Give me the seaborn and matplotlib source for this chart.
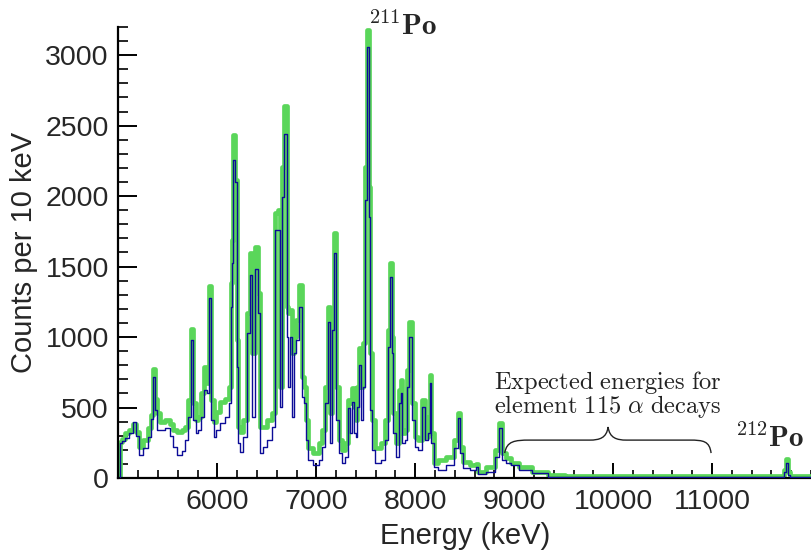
import matplotlib
matplotlib.use("Agg")
import matplotlib.pyplot as plt
from matplotlib.path import Path
from matplotlib.patches import PathPatch
from matplotlib.ticker import MultipleLocator
import numpy as np
import pandas as pd
import seaborn as sns

# ---- data (energy in keV, counts per 10 keV) ----
energy = [5010, 5020, 5050, 5090, 5130, 5170, 5190, 5220, 5270, 5320, 5340, 5360, 5380,
          5400, 5440, 5500, 5540, 5570, 5620, 5660, 5690, 5720, 5740, 5770, 5790, 5820,
          5850, 5880, 5900, 5930, 5950, 5980, 6000, 6060, 6100, 6130, 6140, 6150, 6170,
          6190, 6200, 6220, 6240, 6280, 6310, 6340, 6360, 6400, 6420, 6440, 6480, 6530,
          6570, 6600, 6620, 6640, 6660, 6690, 6710, 6720, 6740, 6760, 6780, 6810, 6840,
          6870, 6890, 6900, 6930, 7000, 7050, 7070, 7100, 7130, 7150, 7170, 7190, 7210,
          7240, 7270, 7300, 7330, 7350, 7370, 7390, 7410, 7420, 7450, 7460, 7480, 7500,
          7520, 7540, 7550, 7570, 7620, 7680, 7710, 7730, 7750, 7770, 7780, 7830, 7850,
          7860, 7880, 7910, 7930, 7950, 7980, 8010, 8050, 8080, 8110, 8140, 8150, 8170,
          8200, 8260, 8360, 8420, 8440, 8470, 8500, 8600, 8620, 8650, 8770, 8840, 8860,
          8890, 8940, 9000, 9100, 9260, 9430, 9600, 10500, 11500, 11720, 11740, 11760,
          11780, 11800, 12000]

counts_green = [0, 257, 280, 319, 340, 385, 330, 222, 270, 354, 450, 773, 560,
                461, 399, 411, 380, 340, 328, 340, 364, 553, 1060, 532, 411, 435,
                603, 789, 674, 1363, 553, 400, 470, 541, 560, 647, 1383, 1687, 2432,
                2113, 978, 364, 328, 411, 1170, 1595, 886, 1640, 1312, 364, 364, 411,
                461, 1879, 1900, 647, 2207, 2637, 1215, 1170, 1191, 886, 1002, 1120, 1368,
                718, 647, 411, 210, 177, 248, 340, 647, 1215, 461, 1170, 1737, 647,
                269, 199, 248, 553, 532, 638, 505, 411, 647, 922, 647, 957, 2207,
                3180, 2065, 886, 411, 213, 248, 411, 1049, 1522, 1002, 461, 248, 624,
                695, 319, 340, 766, 1108, 532, 293, 269, 553, 293, 435, 730, 319,
                104, 128, 151, 269, 459, 222, 116, 92, 100, 45, 80, 199, 388,
                177, 140, 106, 75, 45, 21, 14, 12, 12, 14, 60, 135,
                40, 14, 14]

counts_blue = [0, 248, 265, 284, 320, 400, 300, 163, 213, 291, 420, 718, 480,
               340, 340, 354, 300, 222, 163, 190, 269, 435, 978, 411, 319, 340,
               435, 624, 603, 1276, 411, 290, 340, 390, 435, 532, 1215, 1524, 2255,
               2101, 789, 248, 187, 293, 1028, 1439, 435, 1482, 1170, 177, 222, 269,
               364, 1758, 1758, 505, 1994, 2444, 1002, 647, 1002, 435, 886, 978, 1215,
               576, 532, 269, 128, 92, 128, 222, 532, 1108, 248, 1049, 1595, 411,
               177, 104, 151, 496, 319, 541, 319, 293, 505, 801, 411, 647, 1971,
               3058, 1852, 482, 199, 104, 128, 269, 931, 1427, 886, 319, 151, 532,
               601, 248, 269, 647, 1002, 411, 222, 199, 505, 269, 319, 671, 248,
               80, 57, 92, 213, 423, 177, 71, 57, 80, 28, 45, 151, 352,
               128, 104, 92, 60, 33, 9, 5, 4, 4, 5, 40, 108,
               20, 5, 5]

x_ticks_major = [6000, 7000, 8000, 9000, 10000, 11000]
y_ticks_major = [0, 500, 1000, 1500, 2000, 2500, 3000]

df = pd.DataFrame({"Energy": energy, "green": counts_green, "blue": counts_blue})

sns.set_theme(style="ticks")
plt.rcParams["font.family"] = ["Liberation Sans", "DejaVu Sans"]
plt.rcParams["mathtext.fontset"] = "cm"

fig = plt.figure(figsize=(8.11, 5.53), dpi=100)
ax = fig.add_axes([0.1461, 0.1356, 0.8539, 0.8156])

sns.lineplot(data=df, x="Energy", y="green", ax=ax, color="#5ad65a", linewidth=3.4,
             drawstyle="steps-mid", estimator=None, zorder=2)
sns.lineplot(data=df, x="Energy", y="blue", ax=ax, color="#0c0c98", linewidth=1.0,
             drawstyle="steps-mid", estimator=None, zorder=3)

ax.set_xlim(5000, 12000)
ax.set_ylim(0, 3200)
ax.set_xticks(x_ticks_major)
ax.set_yticks(y_ticks_major)
ax.xaxis.set_minor_locator(MultipleLocator(200))
ax.yaxis.set_minor_locator(MultipleLocator(100))

for s in ["top", "right"]:
    ax.spines[s].set_visible(False)
for s in ["left", "bottom"]:
    ax.spines[s].set_linewidth(1.6)
    ax.spines[s].set_color("black")

ax.tick_params(axis="x", which="major", direction="in", length=11, width=1.4,
               labelsize=20.5, pad=8, color="black")
ax.tick_params(axis="x", which="minor", direction="in", length=5.5, width=1.2, color="black")
ax.tick_params(axis="y", which="major", direction="in", length=14, width=1.4,
               labelsize=20.5, pad=7, color="black")
ax.tick_params(axis="y", which="minor", direction="in", length=7, width=1.2, color="black")

ax.set_xlabel("Energy (keV)", fontsize=21, labelpad=5)
ax.set_ylabel("Counts per 10 keV", fontsize=21, labelpad=5)

# annotations
ax.text(7520, 3141, r"$^{211}\mathbf{Po}$", fontsize=21, ha="left", va="baseline",
        clip_on=False)
ax.text(11227, 222, r"$^{212}\mathbf{Po}$", fontsize=21, ha="left", va="baseline",
        clip_on=False)
ax.text(8792, 459,
        r"$\mathrm{Expected\ energies\ for}$" + "\n"
        + r"$\mathrm{element\ 115\ }\alpha\mathrm{\ decays}$",
        fontsize=17.6, ha="left", va="baseline", color="#222222", linespacing=0.85)

verts = [(8904, 177), (8924, 262), (9005, 269), (9156, 269),
         (9762, 269),
         (9863, 269), (9934, 284), (9949, 362),
         (9964, 284), (10035, 269), (10136, 269),
         (10772, 269),
         (10913, 269), (10974, 262), (10990, 177)]
codes = [Path.MOVETO, Path.CURVE4, Path.CURVE4, Path.CURVE4,
         Path.LINETO,
         Path.CURVE4, Path.CURVE4, Path.CURVE4,
         Path.CURVE4, Path.CURVE4, Path.CURVE4,
         Path.LINETO,
         Path.CURVE4, Path.CURVE4, Path.CURVE4]
ax.add_patch(PathPatch(Path(verts, codes), facecolor="none", edgecolor="#222222",
                       linewidth=1.0, zorder=4))

fig.savefig("out.png", dpi=100)
